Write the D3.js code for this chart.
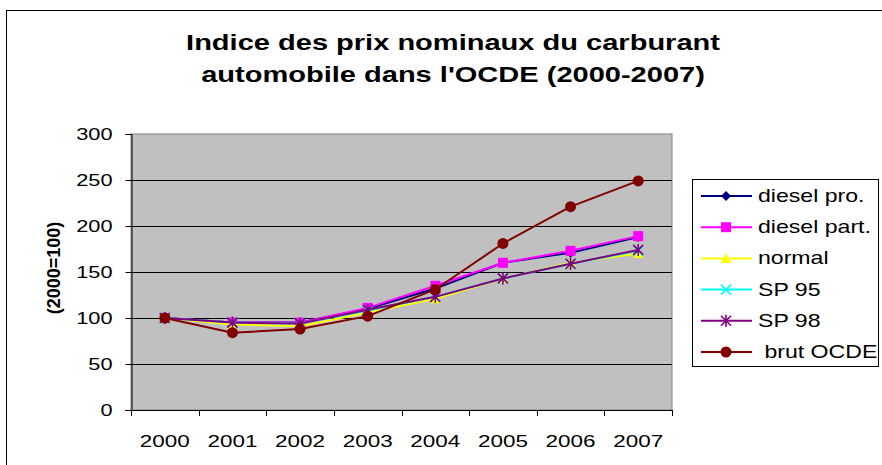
<!DOCTYPE html>
<html>
<head>
<meta charset="utf-8">
<script src="https://cdn.jsdelivr.net/npm/d3@7"></script>
<style>
  body { margin: 0; background: #fff; }
  svg { display: block; font-family: Arial, "Liberation Sans", sans-serif; }
</style>
</head>
<body>
<div id="chart"></div>
<script>
// données ------------------------------------------------------------------
const years = ['2000', '2001', '2002', '2003', '2004', '2005', '2006', '2007'];
const dieselPro = [100, 95, 95, 110, 132, 160, 171, 188];
const dieselPart = [100, 95, 95, 111, 135, 160, 173, 189];
const normal = [100, 93, 91, 106, 121, 143, 160, 170];
const sp95 = [100, 95, 94, 108, 123, 143, 159, 173];
const sp98 = [100, 95, 94, 109, 123, 143, 159, 174];
const brutOCDE = [100, 84, 88, 102, 131, 181, 221, 249];
const yTicks = [0, 50, 100, 150, 200, 250, 300];

const seriesNames = ['diesel pro.', 'diesel part.', 'normal', 'SP 95', 'SP 98', ' brut OCDE'];
const seriesValues = [dieselPro, dieselPart, normal, sp95, sp98, brutOCDE];
const seriesColors = ['#000080', '#FF00FF', '#FFFF00', '#00FFFF', '#800080', '#800000'];
const seriesMarkers = ['diamond', 'square', 'triangle', 'x', 'star', 'circle'];

// SVG ----------------------------------------------------------------------
const width = 882, height = 465;
const stretch = 1.32; // le texte du graphique d'origine est étiré en largeur
const margin = { top: 134, right: 210, bottom: 55, left: 131 };
const plotRight = 672;
const svg = d3.select('#chart').append('svg')
  .attr('width', width)
  .attr('height', height);

// cadre du graphique
svg.append('rect')
  .attr('x', 6.5).attr('y', 10.5)
  .attr('width', 900).attr('height', 500)
  .attr('fill', 'none').attr('stroke', '#000').attr('stroke-width', 1);

// titre
const titleLines = ['Indice des prix nominaux du carburant', "automobile dans l'OCDE (2000-2007)"];
titleLines.forEach((t, i) => {
  svg.append('text')
    .attr('transform', 'translate(453,' + (50 + i * 31.5) + ') scale(' + stretch + ',1)')
    .attr('text-anchor', 'middle')
    .attr('font-size', '22px')
    .attr('font-weight', 'bold')
    .text(t);
});

// échelles -----------------------------------------------------------------
const xScale = d3.scaleBand()
  .domain(years)
  .range([margin.left, plotRight]);
const yScale = d3.scaleLinear()
  .domain([0, 300])
  .range([410, margin.top]);
const xc = d => xScale(d) + xScale.bandwidth() / 2;

// zone de traçage
svg.append('rect')
  .attr('x', margin.left).attr('y', yScale(300))
  .attr('width', plotRight - margin.left).attr('height', yScale(0) - yScale(300))
  .attr('fill', '#C0C0C0').attr('stroke', '#808080');

// quadrillage
svg.append('g')
  .selectAll('line')
  .data(yTicks.filter(d => d > 0 && d < 300))
  .join('line')
  .attr('x1', margin.left).attr('x2', plotRight)
  .attr('y1', d => Math.round(yScale(d)) + 0.5).attr('y2', d => Math.round(yScale(d)) + 0.5)
  .attr('stroke', '#000');

// axe y
const yAxis = svg.append('g')
  .attr('transform', 'translate(' + (margin.left + 0.5) + ',0)')
  .call(d3.axisLeft(yScale).tickValues(yTicks).tickSize(6));
yAxis.selectAll('text')
  .attr('x', null)
  .attr('transform', 'translate(-19,0) scale(' + stretch + ',1)')
  .attr('font-size', '16.5px').attr('fill', '#000')
  .attr('font-family', 'Arial, "Liberation Sans", sans-serif');

// axe x
const xAxis = svg.append('g')
  .attr('transform', 'translate(0,' + (yScale(0) + 0.5) + ')')
  .call(d3.axisBottom(xScale).tickSize(0));
xAxis.selectAll('text')
  .attr('y', null).attr('dy', null)
  .attr('transform', 'translate(0,36) scale(' + stretch + ',1)')
  .attr('font-size', '17px').attr('fill', '#000')
  .attr('font-family', 'Arial, "Liberation Sans", sans-serif');
xAxis.select('.domain').remove();
svg.append('line')
  .attr('x1', margin.left - 6).attr('x2', plotRight)
  .attr('y1', yScale(0) + 0.5).attr('y2', yScale(0) + 0.5)
  .attr('stroke', '#000');
// graduations entre catégories
const bounds = years.map(d => xScale(d)).concat([plotRight]);
svg.append('g')
  .selectAll('line')
  .data(bounds)
  .join('line')
  .attr('x1', d => Math.round(d) + 0.5).attr('x2', d => Math.round(d) + 0.5)
  .attr('y1', yScale(0)).attr('y2', yScale(0) + 6)
  .attr('stroke', '#000');

// titre de l'axe y
svg.append('text')
  .attr('transform', 'translate(60,' + ((yScale(0) + yScale(300)) / 2 - 4) + ') rotate(-90)')
  .attr('text-anchor', 'middle')
  .attr('font-size', '18px')
  .attr('font-weight', 'bold')
  .text('(2000=100)');

// marqueurs ----------------------------------------------------------------
const drawMarker = (g, type, color, x, y) => {
  if (type === 'diamond') {
    g.append('path').attr('d', `M${x},${y - 5}L${x + 5},${y}L${x},${y + 5}L${x - 5},${y}Z`).attr('fill', color);
  } else if (type === 'square') {
    g.append('rect').attr('x', x - 5).attr('y', y - 5).attr('width', 10).attr('height', 10).attr('fill', color);
  } else if (type === 'triangle') {
    g.append('path').attr('d', `M${x},${y - 5}L${x + 5.5},${y + 4.5}L${x - 5.5},${y + 4.5}Z`).attr('fill', color);
  } else if (type === 'x') {
    g.append('path').attr('d', `M${x - 5},${y - 5}L${x + 5},${y + 5}M${x - 5},${y + 5}L${x + 5},${y - 5}`)
      .attr('stroke', color).attr('stroke-width', 1.6);
  } else if (type === 'star') {
    g.append('path').attr('d', `M${x - 5},${y - 5}L${x + 5},${y + 5}M${x - 5},${y + 5}L${x + 5},${y - 5}M${x},${y - 6}L${x},${y + 6}`)
      .attr('stroke', color).attr('stroke-width', 1.6);
  } else {
    g.append('circle').attr('cx', x).attr('cy', y).attr('r', 5.5).attr('fill', color);
  }
};

// séries -------------------------------------------------------------------
const line = d3.line()
  .x((d, i) => xc(years[i]))
  .y(d => yScale(d));
seriesValues.forEach((vals, k) => {
  const g = svg.append('g');
  g.append('path')
    .attr('d', line(vals))
    .attr('fill', 'none')
    .attr('stroke', seriesColors[k])
    .attr('stroke-width', 2);
  vals.forEach((v, i) => drawMarker(g, seriesMarkers[k], seriesColors[k], xc(years[i]), yScale(v)));
});

// légende ------------------------------------------------------------------
const legend = svg.append('g');
legend.append('rect')
  .attr('x', 692.5).attr('y', 179.5)
  .attr('width', 186).attr('height', 187)
  .attr('fill', '#fff').attr('stroke', '#000');
seriesNames.forEach((name, k) => {
  const y = 196 + k * 31.2;
  const g = legend.append('g');
  g.append('line')
    .attr('x1', 701).attr('x2', 752)
    .attr('y1', y).attr('y2', y)
    .attr('stroke', seriesColors[k]).attr('stroke-width', 2);
  drawMarker(g, seriesMarkers[k], seriesColors[k], 726, y);
  g.append('text')
    .attr('transform', 'translate(758,' + (y + 6) + ') scale(' + stretch + ',1)')
    .attr('font-size', '17.5px')
    .style('white-space', 'pre')
    .text(name);
});
</script>
</body>
</html>
